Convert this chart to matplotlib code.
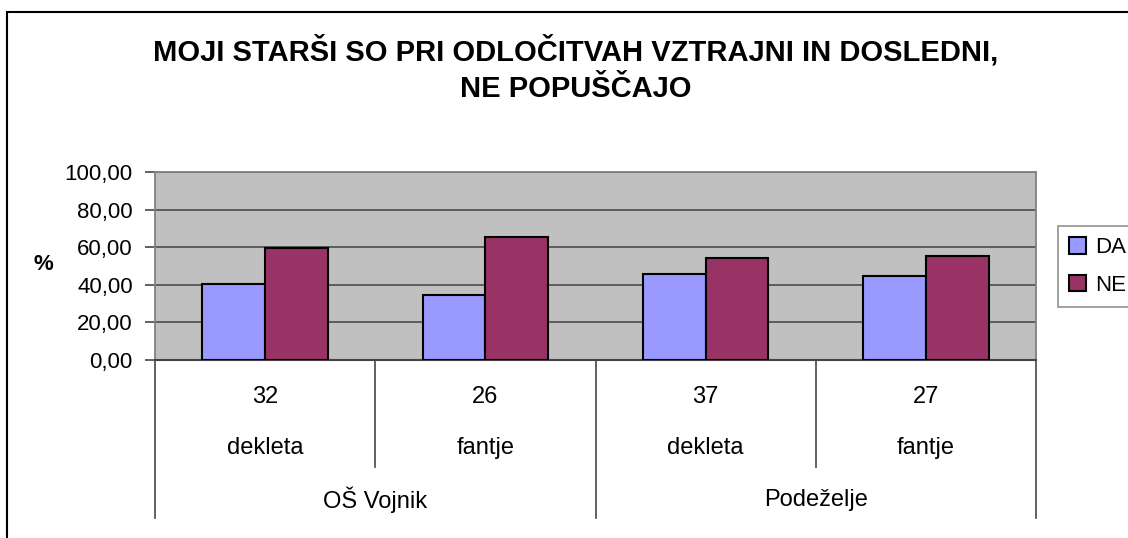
import matplotlib
matplotlib.use("Agg")
import numpy as np
import matplotlib.pyplot as plt
from matplotlib.patches import Rectangle

plt.rcParams['font.family'] = ['Liberation Sans', 'DejaVu Sans']

# data
title = "MOJI STARŠI SO PRI ODLOČITVAH VZTRAJNI IN DOSLEDNI,\nNE POPUŠČAJO"
counts = ["32", "26", "37", "27"]
genders = ["dekleta", "fantje", "dekleta", "fantje"]
groups = ["OŠ Vojnik", "Podeželje"]
da = [40.63, 34.62, 45.95, 44.44]
ne = [59.38, 65.38, 54.05, 55.56]
series_names = ["DA", "NE"]
colors = ["#9999FF", "#993366"]

W, H = 1128, 538
fig = plt.figure(figsize=(W / 100, H / 100), dpi=100)

# outer chart border (runs off the right/bottom edge)
fig.patches.append(Rectangle((7 / W, -0.1), 1.2, (H - 12) / H + 0.1,
                             transform=fig.transFigure, fill=False,
                             edgecolor="black", linewidth=1.5))

left, right, top, bottom = 155, 1036, 172, 360
ax = fig.add_axes([left / W, (H - bottom) / H, (right - left) / W, (bottom - top) / H])
ax.set_facecolor("#C0C0C0")

x = np.arange(len(counts))
bw = 0.285
b1 = ax.bar(x - bw / 2, da, bw, color=colors[0], edgecolor="black", linewidth=1.5,
            label=series_names[0], zorder=3)
b2 = ax.bar(x + bw / 2, ne, bw, color=colors[1], edgecolor="black", linewidth=1.5,
            label=series_names[1], zorder=3)

ax.set_xlim(-0.5, len(counts) - 0.5)
ax.set_ylim(0, 100)
ax.set_yticks(np.arange(0, 101, 20))
ax.set_yticklabels([f"{v:.2f}".replace(".", ",") for v in np.arange(0, 101, 20)],
                   fontsize=16)
ax.yaxis.grid(True, color="#555555", linewidth=1.3, zorder=1)
ax.tick_params(axis="y", length=7, color="#555555", width=1.3, pad=9)
ax.set_xticks([])
for s in ["top", "right", "left"]:
    ax.spines[s].set_color("#808080")
    ax.spines[s].set_linewidth(1.3)
ax.spines["bottom"].set_color("#444444")
ax.spines["bottom"].set_linewidth(1.5)

# multi-level category axis
tr = ax.get_xaxis_transform()
for i in range(len(counts)):
    ax.text(x[i], -0.197, counts[i], transform=tr, ha="center", va="center", fontsize=17)
    ax.text(x[i], -0.468, genders[i], transform=tr, ha="center", va="center", fontsize=17)
for j, g in enumerate(groups):
    ax.text(2 * j + 0.5, -0.745, g, transform=tr, ha="center", va="center", fontsize=17)
for xs in [0.5, 2.5]:
    ax.plot([xs, xs], [0, -0.569], transform=tr, color="#555555", linewidth=1.3, clip_on=False)
for xs in [-0.5, 1.5, 3.5]:
    ax.plot([xs, xs], [0, -0.84], transform=tr, color="#555555", linewidth=1.3, clip_on=False)

fig.text(43 / W, (H - 265) / H, "%", fontsize=16, fontweight="bold", ha="center", va="center")
fig.text(576 / W, (H - 69) / H, title, fontsize=21, fontweight="bold", ha="center",
         va="center", linespacing=1.42)

leg = fig.legend(handles=[b1, b2], loc="upper left", bbox_to_anchor=(1058 / W, (H - 226) / H),
                 fontsize=16, frameon=True, fancybox=False, edgecolor="#808080",
                 handlelength=0.75, handleheight=0.75, handletextpad=0.4,
                 labelspacing=0.75, borderpad=0.5, borderaxespad=0)
leg.get_frame().set_linewidth(1.3)

fig.savefig("out.png", dpi=100)
